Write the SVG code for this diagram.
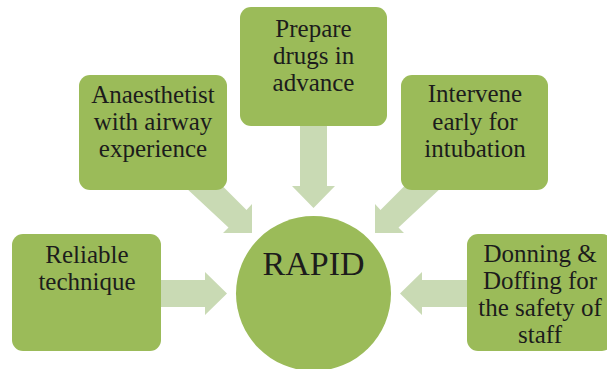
<svg xmlns="http://www.w3.org/2000/svg" width="607" height="369" viewBox="0 0 607 369">
<style>
.box{fill:#9bbb59;}
.arr{fill:#c9dab4;}
.t{font-family:'Liberation Serif','DejaVu Serif',serif;font-size:25px;fill:#1c1c1c;text-anchor:middle;}
.big{font-size:34px;}
</style>
<rect width="607" height="369" fill="#ffffff"/>
<g id="connectors">
  <polygon class="arr" points="300,120 327,120 327,186 335,186 313.5,208 292,186 300,186"/>
  <polygon class="arr" points="150,280 205,280 205,272 227,293.5 205,315 205,307 150,307"/>
  <polygon class="arr" points="475,280 422,280 422,272 400,293.5 422,315 422,307 475,307"/>
  <polygon class="arr" points="177,179.5 196.5,160 246.5,210 252,204 252,233 223,233 228.5,227.5"/>
  <polygon class="arr" points="450,179.5 430.5,160 380.5,210 375,204 375,233 404,233 398.5,227.5"/>
</g>
<g id="prepare">
  <rect class="box" x="240" y="7" width="147" height="119" rx="11"/>
  <text class="t" x="313.5" y="37">Prepare</text>
  <text class="t" x="313.5" y="64">drugs in</text>
  <text class="t" x="313.5" y="91">advance</text>
</g>
<g id="anaesthetist">
  <rect class="box" x="79" y="75" width="148" height="115" rx="11"/>
  <text class="t" x="153" y="103">Anaesthetist</text>
  <text class="t" x="153" y="130">with airway</text>
  <text class="t" x="153" y="157">experience</text>
</g>
<g id="intervene">
  <rect class="box" x="401" y="75" width="147" height="115" rx="11"/>
  <text class="t" x="475" y="102">Intervene</text>
  <text class="t" x="475" y="130">early for</text>
  <text class="t" x="475" y="157">intubation</text>
</g>
<g id="reliable">
  <rect class="box" x="12" y="234" width="149" height="117" rx="11"/>
  <text class="t" x="87" y="263">Reliable</text>
  <text class="t" x="87" y="290">technique</text>
</g>
<g id="donning">
  <rect class="box" x="467" y="234" width="146" height="117" rx="11"/>
  <text class="t" x="540" y="262">Donning &amp;</text>
  <text class="t" x="540" y="289">Doffing for</text>
  <text class="t" x="540" y="316">the safety of</text>
  <text class="t" x="540" y="343">staff</text>
</g>
<g id="rapid">
  <circle class="box" cx="313.5" cy="293.5" r="77.5"/>
  <text class="t big" x="313.5" y="275">RAPID</text>
</g>
</svg>
